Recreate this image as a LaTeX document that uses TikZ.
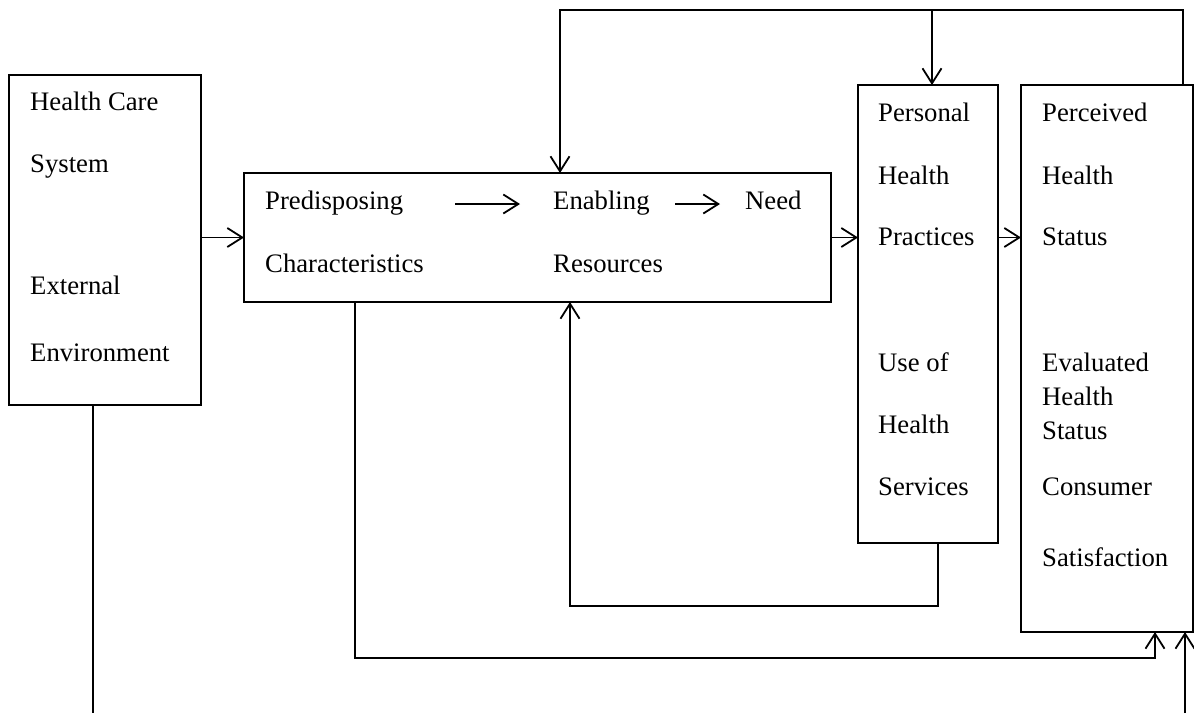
\documentclass[tikz,border=0pt]{standalone}
\usepackage{fontspec}
\setmainfont{Liberation Serif}
\usetikzlibrary{arrows.meta}
\begin{document}
\begin{tikzpicture}[x=1pt,y=-1pt,
  box/.style={draw, line width=1.8pt, inner sep=0pt, outer sep=0pt},
  lbl/.style={anchor=base west, inner sep=0pt, font=\fontsize{26.7}{32}\selectfont},
  line/.style={line width=1.8pt},
  conn/.style={line width=1.8pt, -{Straight Barb[length=15pt,width=19pt,line width=1.8pt]}}]
\useasboundingbox (0,0) rectangle (1194,713);
% boxes
\node[box, minimum width=192pt, minimum height=330pt] (hcs) at (105,240) {};
\node[box, minimum width=587pt, minimum height=129pt] (mid) at (537.5,237.5) {};
\node[box, minimum width=140pt, minimum height=458pt] (php) at (928,314) {};
\node[box, minimum width=172pt, minimum height=547pt] (phs) at (1107,358.5) {};
% labels
\node[lbl] (t1) at (30,110) {Health Care};
\node[lbl] (t2) at (30,172) {System};
\node[lbl] (t3) at (30,294) {External};
\node[lbl] (t4) at (30,361) {Environment};
\node[lbl] (pd) at (265,209) {Predisposing};
\node[lbl] (ch) at (265,272) {Characteristics};
\node[lbl] (en) at (553,209) {Enabling};
\node[lbl] (rs) at (553,272) {Resources};
\node[lbl] (nd) at (745,209) {Need};
\node[lbl] (p1) at (878,121) {Personal};
\node[lbl] (p2) at (878,184) {Health};
\node[lbl] (p3) at (878,245) {Practices};
\node[lbl] (p4) at (878,371) {Use of};
\node[lbl] (p5) at (878,433) {Health};
\node[lbl] (p6) at (878,495) {Services};
\node[lbl] (s1) at (1042,121) {Perceived};
\node[lbl] (s2) at (1042,184) {Health};
\node[lbl] (s3) at (1042,245) {Status};
\node[lbl] (s4) at (1042,371) {Evaluated};
\node[lbl] (s5) at (1042,405) {Health};
\node[lbl] (s6) at (1042,439) {Status};
\node[lbl] (s7) at (1042,495) {Consumer};
\node[lbl] (s8) at (1042,566) {Satisfaction};
% internal arrows
\coordinate (a1s) at (455,204);
\coordinate (a1e) at (520,204);
\coordinate (a2s) at (675,204);
\coordinate (a2e) at (720,204);
\draw[conn] (a1s) -- (a1e);
\draw[conn] (a2s) -- (a2e);
% main flow
\draw[conn] (mid.west -| hcs.east) -- (mid.west);
\draw[conn] (mid.east) -- (mid.east -| php.west);
\draw[conn] (mid.east -| php.east) -- (mid.east -| phs.west);
% top loop
\coordinate (tr) at (1183,10);
\coordinate (tl) at (560,10);
\coordinate (tm) at (932,10);
\draw[conn] (phs.north -| tr) -- (tr) -- (tl) -- (tl |- mid.north);
\draw[conn] (tm) -- (tm |- php.north);
% bottom loops
\coordinate (b1r) at (938,606);
\coordinate (b1l) at (570,606);
\draw[conn] (php.south -| b1r) -- (b1r) -- (b1l) -- (b1l |- mid.south);
\coordinate (b2l) at (355,658);
\coordinate (b2r) at (1155,658);
\draw[conn] (mid.south -| b2l) -- (b2l) -- (b2r) -- (b2r |- phs.south);
\coordinate (hb) at (93,713);
\draw[line] (hcs.south -| hb) -- (hb);
\coordinate (pb) at (1185,713);
\draw[conn] (pb) -- (pb |- phs.south);
\end{tikzpicture}
\end{document}
